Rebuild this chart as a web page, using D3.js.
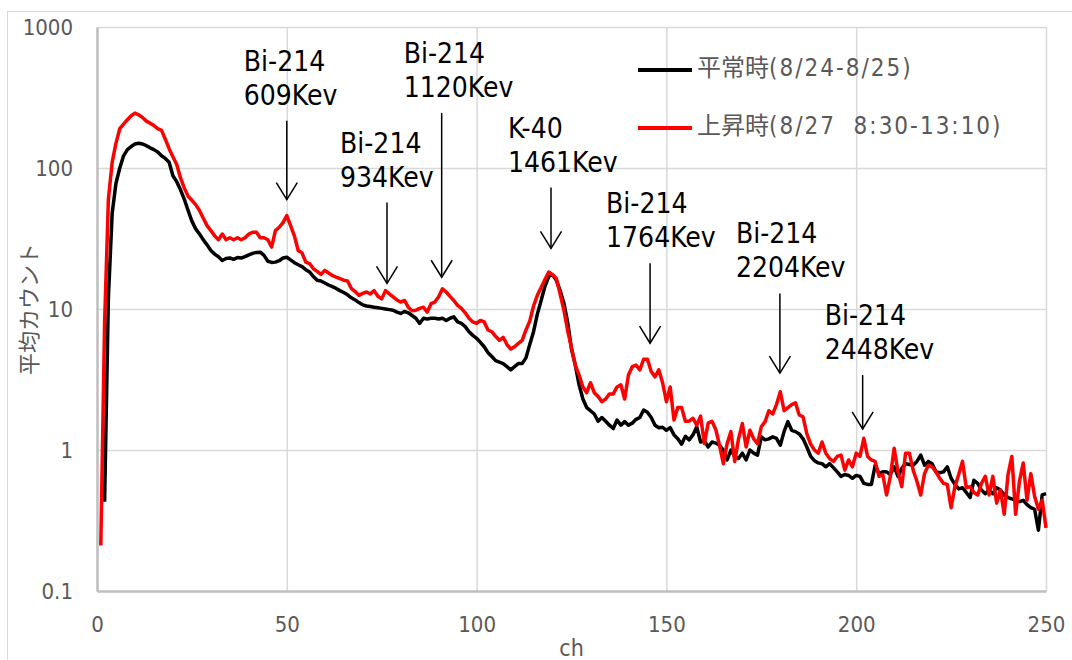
<!DOCTYPE html>
<html>
<head>
<meta charset="utf-8">
<script src="https://cdn.jsdelivr.net/npm/d3@7/dist/d3.min.js"></script>
<style>
  html, body { margin: 0; padding: 0; background: #fff; }
  svg { display: block; }
</style>
</head>
<body>
<svg id="chart" width="1072" height="660"></svg>
<script>
// Gamma-ray spectrum: average counts per channel, normal vs. elevated period
const channels = d3.range(1, 251);

const seriesNames = ["平常時(8/24-8/25)", "上昇時(8/27  8:30-13:10)"];

// 平常時 (ch 1..250); ch 1 has no count
const normalCounts = [
  null, 0.43, 12, 48, 78, 100, 122, 135, 142, 148,
  150, 148, 144, 139, 135, 130, 122, 117, 110, 88,
  80, 70, 60, 50, 42, 37, 34, 31, 28.5, 26,
  24.5, 23.5, 22.1, 22.8, 23, 22.5, 23.2, 23, 23.5, 24.2,
  24.8, 25.2, 25.3, 24, 21.8, 21.4, 21.5, 22, 23, 23.3,
  22.3, 21.3, 20.6, 20, 19, 18.3, 17, 16, 15.8, 15.3,
  14.8, 14.4, 14, 13.5, 13.1, 12.6, 12, 11.6, 11.1, 10.7,
  10.5, 10.4, 10.3, 10.2, 10.1, 10.0, 9.9, 9.8, 9.5, 9.3,
  9.6, 9.4, 9.0, 8.6, 7.9, 8.6, 8.5, 8.6, 8.6, 8.5,
  8.6, 8.3, 8.6, 8.8, 8.1, 7.9, 7.5, 6.9, 6.5, 6.2,
  5.8, 5.4, 4.9, 4.6, 4.3, 4.2, 4.1, 3.9, 3.7, 3.9,
  4.1, 4.1, 4.5, 5.6, 6.9, 9.2, 11.5, 14.5, 17, 17.5,
  16, 13.5, 11, 8, 5.2, 4.0, 2.9, 2.3, 2.0, 1.9,
  1.8, 1.6, 1.7, 1.6, 1.5, 1.42, 1.63, 1.5, 1.59, 1.5,
  1.55, 1.65, 1.7, 1.92, 1.85, 1.7, 1.5, 1.44, 1.45, 1.38,
  1.44, 1.28, 1.2, 1.1, 1.25, 1.18, 1.28, 1.46, 1.14, 1.16,
  1.05, 1.14, 1.12, 1.08, 1.0, 0.85, 1.0, 0.9, 0.87, 0.95,
  0.85, 1.0, 0.95, 0.92, 1.24, 1.18, 1.2, 1.24, 1.21, 1.08,
  1.35, 1.59, 1.38, 1.35, 1.3, 1.2, 1.05, 0.9, 0.84, 0.81,
  0.8, 0.76, 0.8, 0.75, 0.7, 0.65, 0.67, 0.66, 0.63, 0.66,
  0.65, 0.58, 0.57, 0.57, 0.78, 0.68, 0.70, 0.70, 0.67, 0.76,
  0.65, 0.74, 0.8, 0.79, 0.78, 0.83, 0.92, 0.78, 0.83, 0.8,
  0.7, 0.69, 0.7, 0.76, 0.63, 0.57, 0.53, 0.54, 0.5, 0.46,
  0.61, 0.58, 0.52, 0.49, 0.52, 0.49, 0.54, 0.52, 0.48, 0.46,
  0.45, 0.44, 0.43, 0.44, 0.41, 0.39, 0.38, 0.27, 0.48, 0.49
];

// 上昇時 (ch 1..250)
const elevatedCounts = [
  0.21, 8, 60, 110, 150, 190, 205, 220, 235, 245,
  238, 228, 215, 208, 200, 190, 185, 160, 137, 120,
  106, 85, 72, 63, 59, 55, 50, 44, 39, 36,
  33, 31, 34, 31, 32, 31, 32, 31, 32, 34,
  35, 35, 32, 32, 31, 27.5, 36, 38, 41, 46,
  39, 33, 26, 25, 21.5, 21, 19.3, 18.5, 17.6, 18.8,
  18, 17.3, 16.8, 16.4, 16, 15.8, 14, 13.3, 12.5, 12.9,
  13.2, 12.8, 13.5, 12.3, 11.8, 13.5, 12.8, 12.2, 11.6, 11.2,
  11.5, 10.3, 9.7, 9.8, 10.1, 10.3, 9.5, 10.9, 11.2, 12.2,
  13.9, 13.2, 12.3, 11.5, 10.6, 10.1, 9.4, 8.6, 8.1, 7.9,
  8.3, 8.1, 7.1, 6.9, 6.4, 6.0, 6.3, 5.6, 5.2, 5.4,
  5.7, 6.0, 7.1, 8.2, 10.5, 12.5, 14.2, 16.2, 18.3, 17.5,
  16.5, 12.8, 9.8, 7.0, 5.3, 4.0, 3.4, 2.8, 2.55, 3.0,
  2.55, 2.4, 2.2, 2.3, 2.5, 2.5, 2.8, 2.9, 2.3, 3.4,
  3.9, 4.0, 3.7, 4.4, 4.4, 3.6, 3.3, 3.7, 3.0, 2.2,
  2.8, 1.63, 2.0, 2.0, 1.6, 1.6, 1.68, 1.5, 1.74, 1.11,
  1.55, 1.6, 1.4, 1.08, 0.80, 1.11, 1.35, 0.83, 1.2, 1.54,
  1.05, 1.38, 1.2, 1.11, 1.46, 1.59, 1.9, 1.8, 2.1, 2.59,
  1.9, 2.0, 2.1, 2.16, 1.77, 1.72, 1.3, 1.1, 1.0, 0.95,
  1.14, 0.95, 0.87, 0.83, 0.9, 0.92, 0.72, 0.85, 0.76, 0.95,
  0.9, 1.21, 0.9, 0.85, 0.83, 0.65, 0.67, 0.48, 0.65, 1.03,
  0.70, 0.55, 0.95, 0.95, 0.72, 0.6, 0.48, 0.68, 0.78, 0.76,
  0.7, 0.63, 0.58, 0.57, 0.39, 0.55, 0.67, 0.83, 0.54, 0.55,
  0.5, 0.48, 0.58, 0.65, 0.48, 0.65, 0.42, 0.52, 0.35, 0.67,
  0.9, 0.35, 0.6, 0.81, 0.44, 0.68, 0.47, 0.38, 0.44, 0.28
];

const xTicks = [0, 50, 100, 150, 200, 250];
const yTicks = [0.1, 1, 10, 100, 1000];
const yTickLabels = ["0.1", "1", "10", "100", "1000"];

// Peak annotations: nuclide, energy, channel, counts at arrow tip and tail
const peakNuclides = ["Bi-214", "Bi-214", "Bi-214", "K-40", "Bi-214", "Bi-214", "Bi-214"];
const peakEnergies = ["609Kev", "934Kev", "1120Kev", "1461Kev", "1764Kev", "2204Kev", "2448Kev"];
const peakChannels = [50, 76.4, 90.8, 119.6, 145.7, 179.9, 201.7];
const peakTipCounts = [59.7, 15.2, 16.8, 26.9, 5.72, 3.51, 1.41];
const peakTailCounts = [216, 56.9, 246, 72.6, 21.1, 12.9, 3.40];

// ---- layout ----
const W = 1072, H = 660;
const plot = { left: 97, right: 1046, top: 27, bottom: 591 };
const latin = "'DejaVu Sans Condensed', 'DejaVu Sans', sans-serif";
const cjkFont = "'Noto Sans CJK JP', sans-serif";
const gray = "#595959";
// horizontal offset of each peak label from its arrow
const labelShift = [-43, -47, -38, -43, -44, -44, -38];

const svg = d3.select("#chart");

const x = d3.scaleLinear().domain([0, 250]).range([plot.left, plot.right]);
const y = d3.scaleLog().domain([0.1, 1000]).range([plot.bottom, plot.top]);

// chart frame
svg.append("rect")
  .attr("x", 7.5).attr("y", 11.5)
  .attr("width", W + 40).attr("height", H + 40)
  .attr("fill", "none").attr("stroke", "#d9d9d9").attr("stroke-width", 1);

// gridlines
const grid = svg.append("g");
grid.append("g")
  .attr("transform", `translate(0,${plot.bottom})`)
  .call(d3.axisBottom(x).tickValues(xTicks).tickSize(-(plot.bottom - plot.top)).tickFormat(""))
  .call(g => g.select(".domain").remove())
  .call(g => g.selectAll("line").attr("stroke", "#d9d9d9").attr("stroke-width", 1.5));
grid.append("g")
  .attr("transform", `translate(${plot.left},0)`)
  .call(d3.axisLeft(y).tickValues(yTicks).tickSize(-(plot.right - plot.left)).tickFormat(""))
  .call(g => g.select(".domain").remove())
  .call(g => g.selectAll("line").attr("stroke", "#d9d9d9").attr("stroke-width", 1.5));

// axes
const xAxis = svg.append("g")
  .attr("transform", `translate(0,${plot.bottom})`)
  .call(d3.axisBottom(x).tickValues(xTicks).tickSize(0).tickPadding(0));
xAxis.select(".domain").attr("stroke", "#bfbfbf").attr("stroke-width", 2.5);
xAxis.selectAll("text")
  .attr("y", 41).attr("dy", null)
  .attr("fill", gray).style("font-family", latin).style("font-size", "22px");

const yAxis = svg.append("g")
  .attr("transform", `translate(${plot.left},0)`)
  .call(d3.axisLeft(y).tickValues(yTicks).tickSize(0).tickPadding(0)
    .tickFormat((d, i) => yTickLabels[i]));
yAxis.select(".domain").attr("stroke", "#bfbfbf").attr("stroke-width", 2.5);
yAxis.selectAll("text")
  .attr("x", -24).attr("dy", "0.36em")
  .attr("fill", gray).style("font-family", latin).style("font-size", "22px");

// axis titles
svg.append("text")
  .attr("x", (plot.left + plot.right) / 2).attr("y", 656)
  .attr("text-anchor", "middle")
  .attr("fill", gray).style("font-family", latin).style("font-size", "23px")
  .text("ch");
svg.append("text")
  .attr("transform", `translate(37,${(plot.top + plot.bottom) / 2}) rotate(-90)`)
  .attr("text-anchor", "middle")
  .attr("fill", gray).style("font-family", cjkFont).style("font-size", "22px")
  .text("平均カウント");

// spectra
const line = d3.line()
  .defined(d => d.v != null)
  .x(d => x(d.ch))
  .y(d => y(d.v));

const series = [
  { name: seriesNames[0], values: normalCounts, color: "#000000" },
  { name: seriesNames[1], values: elevatedCounts, color: "#ff0000" }
];

series.forEach(s => {
  svg.append("path")
    .datum(channels.map((ch, i) => ({ ch, v: s.values[i] })))
    .attr("d", line)
    .attr("fill", "none")
    .attr("stroke", s.color)
    .attr("stroke-width", 3.5)
    .attr("stroke-linejoin", "round")
    .attr("stroke-linecap", "butt");
});

// peak annotations
const ann = svg.append("g");
peakChannels.forEach((ch, i) => {
  const ax = x(ch);
  const tipY = y(peakTipCounts[i]);
  const tailY = y(peakTailCounts[i]);
  ann.append("line")
    .attr("x1", ax).attr("x2", ax).attr("y1", tailY).attr("y2", tipY)
    .attr("stroke", "#000").attr("stroke-width", 1.5);
  ann.append("path")
    .attr("d", `M${ax - 10.5},${tipY - 17}L${ax},${tipY}L${ax + 10.5},${tipY - 17}`)
    .attr("fill", "none").attr("stroke", "#000").attr("stroke-width", 1.5);
  const t = ann.append("text")
    .attr("fill", "#000").style("font-family", latin).style("font-size", "28px");
  const tx = ax + labelShift[i];
  t.append("tspan").attr("x", tx).attr("y", tailY - 50).text(peakNuclides[i]);
  t.append("tspan").attr("x", tx).attr("y", tailY - 16).text(peakEnergies[i]);
});

// legend
const legend = svg.append("g");
series.forEach((s, i) => {
  const ly = 70 + i * 58;
  const m = s.name.match(/^([^(]+)(.*)$/);
  legend.append("line")
    .attr("x1", 638).attr("x2", 692).attr("y1", ly).attr("y2", ly)
    .attr("stroke", s.color).attr("stroke-width", 4);
  const t = legend.append("text")
    .attr("x", 697).attr("y", ly).attr("dy", "0.36em")
    .attr("fill", gray)
    .style("white-space", "pre");
  t.append("tspan")
    .style("font-family", cjkFont).style("font-size", "24px")
    .text(m[1]);
  t.append("tspan")
    .style("font-family", latin).style("font-size", "24px")
    .style("letter-spacing", "2px")
    .text(m[2]);
});
</script>
</body>
</html>
